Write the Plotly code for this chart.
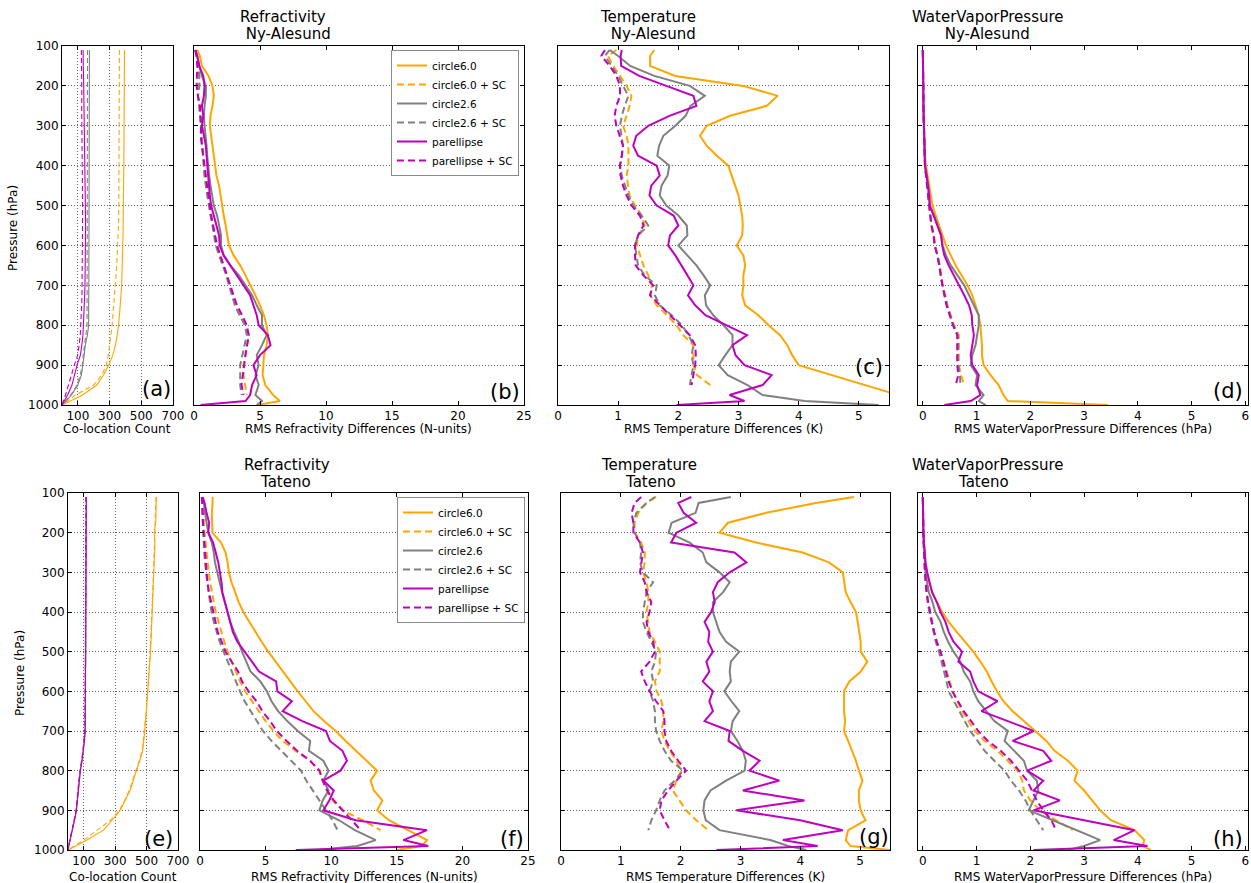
import plotly.graph_objects as go

W, H = 1251, 883
FONT = "DejaVu Sans, Verdana, sans-serif"

# ---------------- data ----------------
P = [110, 125, 150, 175, 200, 225, 250, 275, 300, 325, 350, 375, 400, 425, 450, 475, 500, 525, 550, 575,
     600, 625, 650, 675, 700, 725, 750, 775, 800, 825, 850, 875, 900, 925, 950, 975, 990, 1000]

SERIES = ["circle6.0", "circle6.0 + SC", "circle2.6", "circle2.6 + SC", "parellipse", "parellipse + SC"]
COLORS = ["#FFA500", "#FFA500", "#808080", "#808080", "#BF00BF", "#BF00BF"]
DASHED = [False, True, False, True, False, True]

# (a) Ny-Alesund co-location counts
cnt_ny_c6 = [394,394,394,393,393,392,392,392,391,391,390,390,390,389,389,388,388,387,386,385,
             383,382,380,378,376,372,368,363,357,348,337,320,295,262,220,130,55,0]
cnt_ny_c6sc = [362,362,362,362,361,361,361,361,361,361,360,360,360,360,360,360,360,358,356,354,
               352,349,345,341,337,332,327,321,316,309,301,292,280,250,200,85,35,0]
cnt_ny_c26 = [173,173,172,172,172,171,171,171,171,170,170,170,170,170,170,170,170,170,170,170,
              170,170,169,169,169,169,168,168,168,160,147,140,133,122,100,60,25,0]
cnt_ny_c26sc = [161,161,161,161,160,160,160,160,160,160,160,160,160,160,160,160,160,160,160,160,
                160,160,160,159,159,159,158,158,158,150,140,134,128,115,95,55,22,0]
cnt_ny_pe = [133,135,134,136,137,136,138,139,140,139,141,142,143,144,146,148,150,150,149,148,
             148,147,147,146,145,143,141,139,137,132,125,116,95,80,63,35,12,0]
cnt_ny_pesc = [122,123,122,124,124,125,124,125,125,126,126,127,127,128,129,129,130,130,130,129,
               129,129,128,128,128,126,124,122,120,115,108,99,78,60,42,22,8,0]

# (b) Ny-Alesund refractivity
ref_ny_c6 = [0.25,0.45,0.6,1.1,1.4,1.5,1.4,1.25,1.2,1.3,1.4,1.45,1.55,1.7,1.9,2.0,2.15,2.25,2.4,2.5,
             2.65,3.0,3.5,3.9,4.3,4.65,5.0,5.3,5.5,5.6,5.5,5.3,5.25,5.2,5.4,6.0,6.5,4.8]
ref_ny_c6sc = [0.1,0.2,0.3,0.4,0.4,0.3,0.4,0.45,0.5,0.55,0.6,0.7,0.75,0.8,0.9,1.0,1.15,1.3,1.45,1.55,
               1.7,1.95,2.25,2.5,2.7,2.9,3.15,3.5,3.9,4.15,4.0,3.9,3.75,3.75,3.9,4.0,None,None]
ref_ny_c26 = [0.1,0.25,0.4,0.6,0.9,0.9,0.8,0.75,0.8,0.9,0.95,1.0,1.05,1.15,1.25,1.4,1.5,1.75,1.9,2.05,
              2.05,2.25,2.75,3.4,3.9,4.4,4.75,5.15,5.15,5.5,5.15,4.75,4.9,4.65,4.9,4.65,5.15,4.75]
ref_ny_c26sc = [0.1,0.2,0.3,0.4,0.4,0.3,0.4,0.45,0.5,0.55,0.6,0.65,0.7,0.8,0.9,1.0,1.1,1.25,1.4,1.5,
                1.65,1.9,2.2,2.45,2.65,2.85,3.1,3.45,3.85,4.0,3.85,3.7,3.5,3.5,3.5,3.6,None,None]
ref_ny_pe = [0.1,0.25,0.4,0.7,0.8,0.75,0.6,0.7,0.6,0.75,0.9,0.95,1.0,1.05,1.15,1.2,1.3,1.5,1.7,1.9,
             1.95,2.25,2.75,3.25,3.75,4.25,4.5,4.75,4.9,5.6,5.8,5.0,4.5,4.75,4.4,4.25,3.9,0.5]
ref_ny_pesc = [0.1,0.2,0.25,0.25,0.2,0.3,0.45,0.5,0.55,0.5,0.6,0.7,0.8,0.9,0.95,1.05,1.2,1.3,1.45,1.6,
               1.75,2.0,2.25,2.5,2.75,3.0,3.25,3.65,4.0,4.15,4.0,3.9,3.8,3.7,3.6,3.75,None,None]

# (c) Ny-Alesund temperature
tmp_ny_c6 = [1.6,1.53,1.53,1.95,3.08,3.65,3.47,2.86,2.47,2.36,2.47,2.64,2.83,2.89,2.94,3.0,3.03,3.06,3.07,3.06,
             2.97,3.08,3.11,3.08,3.08,3.06,3.11,3.33,3.5,3.69,3.81,3.89,4.0,4.55,5.1,5.7,6.0,6.2]
tmp_ny_c6sc = [0.97,0.83,0.92,1.03,1.14,1.22,1.19,1.14,1.08,1.14,1.17,1.17,1.17,1.14,1.17,1.19,1.28,1.39,1.44,1.33,
               1.31,1.36,1.42,1.5,1.56,1.53,1.64,1.81,1.97,2.08,2.25,2.25,2.25,2.31,2.53,None,None,None]
tmp_ny_c26 = [0.86,1.0,1.2,1.6,2.19,2.44,2.2,2.12,1.95,1.75,1.68,1.65,1.85,1.82,1.72,1.69,1.8,2.0,2.14,2.15,
              2.0,2.15,2.3,2.42,2.53,2.44,2.46,2.58,2.75,2.9,2.9,2.78,2.67,2.82,3.15,3.4,4.1,5.33]
tmp_ny_c26sc = [0.86,0.78,0.89,1.0,1.08,1.17,1.11,1.06,1.03,1.06,1.08,1.06,1.03,1.06,1.11,1.17,1.25,1.39,1.5,1.33,
                1.28,1.31,1.33,1.44,1.64,1.61,1.69,1.89,2.06,2.17,2.25,2.22,2.25,2.22,2.19,None,None,None]
tmp_ny_pe = [1.06,1.04,1.05,1.35,1.8,2.25,2.3,1.85,1.5,1.3,1.25,1.33,1.64,1.69,1.55,1.52,1.64,1.92,2.0,1.86,
             1.83,1.95,2.05,2.15,2.25,2.16,2.28,2.45,2.8,3.14,2.9,2.95,3.1,3.55,3.4,2.85,3.1,1.97]
tmp_ny_pesc = [0.78,0.72,0.86,0.97,1.03,1.03,0.97,0.94,0.97,1.03,1.08,1.06,1.03,1.04,1.08,1.14,1.22,1.36,1.42,1.33,
               1.28,1.28,1.29,1.42,1.58,1.53,1.69,1.86,2.03,2.19,2.28,2.29,2.28,2.25,2.22,None,None,None]

# (d) Ny-Alesund water vapour pressure
wv_ny_c6 = [0.0,0.0,0.0,0.005,0.01,0.01,0.012,0.015,0.02,0.025,0.03,0.04,0.06,0.09,0.12,0.15,0.18,0.24,0.3,0.37,
            0.43,0.52,0.61,0.72,0.83,0.92,0.98,1.04,1.07,1.09,1.1,1.1,1.13,1.26,1.41,1.5,1.58,3.44]
wv_ny_c6sc = [0.0,0.0,0.0,0.005,0.01,0.01,0.012,0.015,0.02,0.025,0.03,0.035,0.04,0.06,0.09,0.1,0.12,0.13,0.17,0.21,
              0.23,0.28,0.32,0.34,0.37,0.42,0.46,0.52,0.58,0.67,0.67,0.66,0.67,0.71,0.77,None,None,None]
wv_ny_c26 = [0.0,0.0,0.0,0.005,0.01,0.01,0.012,0.015,0.02,0.025,0.03,0.035,0.04,0.07,0.1,0.11,0.13,0.21,0.28,0.34,
             0.37,0.43,0.52,0.64,0.77,0.86,0.95,1.04,1.04,1.01,0.98,0.92,0.89,1.01,0.98,1.13,1.04,1.17]
wv_ny_c26sc = [0.0,0.0,0.0,0.005,0.01,0.01,0.012,0.015,0.02,0.025,0.03,0.035,0.04,0.06,0.08,0.1,0.11,0.13,0.16,0.2,
               0.22,0.27,0.31,0.33,0.36,0.41,0.45,0.51,0.57,0.65,0.66,0.65,0.66,0.69,0.7,None,None,None]
wv_ny_pe = [0.0,0.0,0.0,0.005,0.01,0.01,0.012,0.015,0.02,0.025,0.03,0.035,0.04,0.07,0.1,0.12,0.13,0.2,0.26,0.34,
            0.36,0.4,0.48,0.58,0.67,0.77,0.86,0.91,0.92,0.95,0.92,0.89,0.92,1.04,1.01,1.07,0.89,0.4]
wv_ny_pesc = [0.0,0.0,0.0,0.005,0.01,0.01,0.012,0.015,0.02,0.025,0.03,0.035,0.04,0.06,0.08,0.1,0.11,0.13,0.16,0.2,
              0.22,0.27,0.3,0.33,0.36,0.4,0.44,0.5,0.56,0.64,0.64,0.63,0.64,0.66,0.61,None,None,None]

# (e) Tateno co-location counts
cnt_ta_c6 = [562,561,560,558,548,553,551,549,546,544,541,539,537,534,531,528,525,521,518,514,
             510,505,500,494,489,482,475,456,437,416,395,363,332,280,226,120,45,0]
cnt_ta_c6sc = [560,559,558,556,550,551,549,547,544,542,539,537,535,532,529,526,523,519,516,512,
               508,503,498,492,487,480,472,453,433,412,390,360,328,270,185,100,40,0]
cnt_ta_c26 = [117,117,116,116,116,116,115,115,115,115,114,114,114,114,113,113,113,113,112,112,
              112,111,111,110,110,105,98,90,79,72,66,60,54,42,26,12,5,0]
cnt_ta_c26sc = [115,116,115,115,114,115,114,114,113,114,113,113,112,113,112,112,112,111,111,111,
                110,112,110,109,108,103,96,88,77,70,64,58,52,40,25,11,4,0]
cnt_ta_pe = [116,116,115,116,115,115,114,115,114,114,113,114,113,113,112,112,112,112,111,111,
             111,114,110,109,109,104,97,89,78,71,65,59,53,41,25,12,5,0]
cnt_ta_pesc = [114,115,114,114,113,114,113,113,112,113,112,112,111,112,111,111,111,110,110,110,
               109,112,109,108,107,102,95,86,76,69,63,57,51,39,24,11,4,0]

# (f) Tateno refractivity
ref_ta_c6 = [0.96,0.96,0.9,0.9,0.95,1.6,1.95,2.1,2.2,2.4,2.65,2.95,3.3,3.75,4.2,4.7,5.2,5.75,6.3,6.9,
             7.45,8.05,8.65,9.45,10.35,11.1,11.9,12.75,13.5,13.0,13.25,13.9,13.5,14.4,15.9,17.3,16.9,15.0]
ref_ta_c6sc = [0.25,0.25,0.27,0.3,0.35,0.42,0.5,0.58,0.66,0.78,0.9,1.05,1.2,1.4,1.6,1.85,2.1,2.4,2.7,3.05,
               3.45,3.95,4.45,5.0,5.6,6.3,7.3,8.35,9.15,9.34,9.65,10.1,10.86,12.4,13.76,None,None,None]
ref_ta_c26 = [0.15,0.3,0.38,0.5,0.63,0.9,1.05,1.14,1.3,1.5,1.68,1.9,2.1,2.3,2.6,2.95,3.2,3.54,3.85,4.6,
              5.1,5.45,5.95,6.65,7.45,8.4,8.3,9.4,9.8,9.4,9.8,9.35,9.1,10.6,11.8,13.4,12.0,9.0]
ref_ta_c26sc = [0.13,0.15,0.17,0.19,0.22,0.28,0.32,0.38,0.45,0.55,0.65,0.75,0.88,1.05,1.25,1.5,1.8,2.1,2.4,2.7,
                3.05,3.4,3.85,4.3,4.8,5.45,6.2,7.0,7.7,8.1,8.6,9.1,9.6,10.1,10.48,None,None,None]
ref_ta_pe = [0.2,0.35,0.5,0.7,0.63,1.0,1.2,1.39,1.52,1.64,1.7,1.9,2.1,2.3,2.5,2.85,3.4,3.9,4.5,5.8,
             5.9,7.0,6.3,7.8,9.6,9.9,10.86,11.2,10.7,9.4,10.2,9.85,9.4,11.87,17.3,15.5,17.4,7.3]
ref_ta_pesc = [0.15,0.18,0.2,0.22,0.27,0.32,0.38,0.45,0.5,0.58,0.68,0.85,1.0,1.15,1.35,1.65,1.95,2.4,2.9,3.2,
               3.7,4.3,4.75,5.35,5.85,6.6,7.4,8.4,9.1,9.35,9.7,10.2,10.9,11.6,12.25,None,None,None]

# (g) Tateno temperature
tmp_ta_c6 = [4.9,4.26,3.43,2.79,2.65,3.26,4.04,4.48,4.71,4.73,4.76,4.84,4.93,4.96,4.98,5.01,5.01,5.12,5.01,4.82,
             4.73,4.73,4.73,4.75,4.73,4.8,4.87,4.93,4.98,5.04,4.98,4.98,5.01,5.09,4.8,4.76,4.84,5.5]
tmp_ta_c6sc = [1.59,1.43,1.29,1.23,1.23,1.34,1.4,1.4,1.37,1.43,1.46,1.46,1.43,1.46,1.48,1.57,1.65,1.65,1.65,1.57,
               1.6,1.68,1.71,1.71,1.68,1.73,1.82,1.93,2.01,1.93,1.87,1.98,2.09,2.26,2.46,None,None,None]
tmp_ta_c26 = [2.84,2.3,2.25,1.85,1.8,2.15,2.37,2.43,2.65,2.82,2.71,2.54,2.54,2.59,2.65,2.76,2.98,2.84,2.82,2.84,
              2.73,2.85,2.98,2.87,2.84,2.95,3.04,3.09,3.07,2.76,2.5,2.4,2.38,2.42,2.65,3.5,3.8,4.1]
tmp_ta_c26sc = [1.57,1.43,1.26,1.21,1.23,1.32,1.34,1.32,1.37,1.54,1.43,1.4,1.37,1.37,1.43,1.51,1.59,1.57,1.51,1.54,
                1.48,1.54,1.57,1.57,1.59,1.65,1.73,1.84,2.04,1.9,1.73,1.65,1.59,1.51,1.46,None,None,None]
tmp_ta_pe = [2.18,1.96,2.05,2.26,1.93,1.84,2.9,3.1,2.82,2.62,2.54,2.57,2.51,2.4,2.48,2.46,2.54,2.43,2.48,2.37,
             2.54,2.48,2.54,2.4,2.82,2.8,3.04,3.32,3.15,3.65,3.04,4.07,2.93,4.0,4.71,3.71,4.29,2.6]
tmp_ta_pesc = [1.34,1.23,1.18,1.21,1.21,1.32,1.37,1.34,1.32,1.4,1.43,1.51,1.48,1.43,1.46,1.54,1.57,1.48,1.34,1.4,
               1.48,1.59,1.71,1.73,1.73,1.76,1.84,1.96,2.09,1.93,1.79,1.68,1.65,1.73,1.82,None,None,None]

# (h) Tateno water vapour pressure
wv_ta_c6 = [0.0,0.0,0.0,0.005,0.01,0.02,0.03,0.05,0.08,0.12,0.18,0.26,0.36,0.48,0.63,0.78,0.94,1.07,1.19,1.28,
            1.38,1.5,1.67,1.88,2.1,2.3,2.45,2.7,2.88,2.82,3.0,3.15,3.3,3.5,3.94,4.12,4.09,4.24]
wv_ta_c6sc = [0.0,0.0,0.0,0.005,0.01,0.015,0.02,0.03,0.04,0.055,0.07,0.1,0.13,0.17,0.21,0.26,0.33,0.39,0.45,0.5,
              0.55,0.64,0.73,0.85,0.97,1.15,1.39,1.58,1.76,1.85,1.88,2.0,2.18,2.48,2.79,None,None,None]
wv_ta_c26 = [0.0,0.0,0.0,0.005,0.01,0.02,0.03,0.04,0.05,0.08,0.11,0.18,0.23,0.33,0.39,0.47,0.57,0.7,0.76,0.88,
             0.94,1.03,1.18,1.33,1.58,1.52,1.7,1.88,1.94,2.12,2.15,2.06,1.97,2.42,2.85,3.3,3.0,2.7]
wv_ta_c26sc = [0.0,0.0,0.0,0.005,0.01,0.015,0.02,0.03,0.04,0.05,0.065,0.09,0.12,0.16,0.2,0.24,0.3,0.35,0.4,0.44,
               0.48,0.58,0.67,0.78,0.88,1.02,1.15,1.33,1.52,1.64,1.79,1.91,2.0,2.12,2.24,None,None,None]
wv_ta_pe = [0.0,0.0,0.0,0.005,0.01,0.02,0.03,0.05,0.08,0.12,0.17,0.26,0.33,0.42,0.48,0.57,0.73,0.66,0.88,0.94,
            1.03,1.39,1.09,1.58,2.06,1.67,2.24,2.39,1.94,2.24,2.06,2.55,2.06,3.0,3.94,3.55,4.18,2.06]
wv_ta_pesc = [0.0,0.0,0.0,0.005,0.01,0.015,0.02,0.03,0.04,0.055,0.07,0.1,0.13,0.17,0.21,0.26,0.33,0.38,0.42,0.48,
              0.55,0.65,0.76,0.9,1.03,1.21,1.45,1.64,1.79,1.94,2.03,2.12,2.24,2.39,2.48,None,None,None]

X_TITLES = ["Co-location Count", "RMS Refractivity Differences (N-units)",
            "RMS Temperature Differences (K)", "RMS WaterVaporPressure Differences (hPa)"]

# ---------------- panel definitions ----------------
panels = [
    dict(series=[cnt_ny_c6, cnt_ny_c6sc, cnt_ny_c26, cnt_ny_c26sc, cnt_ny_pe, cnt_ny_pesc],
         xr=[0, 700], tv=[100, 300, 500, 700], xgrid=True, box=(62, 173, 46, 405), ylab=True, lw=1.1,
         label="(a)", lab=(173, 389), xt=X_TITLES[0], xtp=(117, 429)),
    dict(series=[ref_ny_c6, ref_ny_c6sc, ref_ny_c26, ref_ny_c26sc, ref_ny_pe, ref_ny_pesc],
         xr=[0, 25], tv=[0, 5, 10, 15, 20, 25], xgrid=False, box=(194, 524, 46, 405), ylab=False, lw=2,
         label="(b)", lab=(522, 392), xt=X_TITLES[1], xtp=(359, 429)),
    dict(series=[tmp_ny_c6, tmp_ny_c6sc, tmp_ny_c26, tmp_ny_c26sc, tmp_ny_pe, tmp_ny_pesc],
         xr=[0, 5.5], tv=[0, 1, 2, 3, 4, 5], xgrid=False, box=(558, 889, 46, 405), ylab=False, lw=2,
         label="(c)", lab=(885, 367), xt=X_TITLES[2], xtp=(723, 429)),
    dict(series=[wv_ny_c6, wv_ny_c6sc, wv_ny_c26, wv_ny_c26sc, wv_ny_pe, wv_ny_pesc],
         xr=[-0.09, 6.05], tv=[0, 1, 2, 3, 4, 5, 6], xgrid=False, box=(918, 1248, 46, 405), ylab=False, lw=2,
         label="(d)", lab=(1245, 391), xt=X_TITLES[3], xtp=(1083, 429)),
    dict(series=[cnt_ta_c6, cnt_ta_c6sc, cnt_ta_c26, cnt_ta_c26sc, cnt_ta_pe, cnt_ta_pesc],
         xr=[0, 700], tv=[100, 300, 500, 700], xgrid=True, box=(68, 178, 493, 850), ylab=True, lw=1.1,
         label="(e)", lab=(175, 839), xt=X_TITLES[0], xtp=(123, 877)),
    dict(series=[ref_ta_c6, ref_ta_c6sc, ref_ta_c26, ref_ta_c26sc, ref_ta_pe, ref_ta_pesc],
         xr=[0, 25], tv=[0, 5, 10, 15, 20, 25], xgrid=False, box=(200, 528, 493, 850), ylab=False, lw=2,
         label="(f)", lab=(526, 839), xt=X_TITLES[1], xtp=(364, 877)),
    dict(series=[tmp_ta_c6, tmp_ta_c6sc, tmp_ta_c26, tmp_ta_c26sc, tmp_ta_pe, tmp_ta_pesc],
         xr=[0, 5.5], tv=[0, 1, 2, 3, 4, 5], xgrid=False, box=(561, 890, 493, 850), ylab=False, lw=2,
         label="(g)", lab=(891, 837), xt=X_TITLES[2], xtp=(725, 877)),
    dict(series=[wv_ta_c6, wv_ta_c6sc, wv_ta_c26, wv_ta_c26sc, wv_ta_pe, wv_ta_pesc],
         xr=[-0.09, 6.05], tv=[0, 1, 2, 3, 4, 5, 6], xgrid=False, box=(918, 1248, 493, 850), ylab=False, lw=2,
         label="(h)", lab=(1245, 839), xt=X_TITLES[3], xtp=(1083, 877)),
]

TITLES = [
    ("Refractivity", 283, 17), (" Ny-Alesund", 286, 34),
    ("Temperature", 648, 17), (" Ny-Alesund", 651, 34),
    ("WaterVaporPressure", 988, 17), (" Ny-Alesund", 985, 34),
    ("Refractivity", 287, 465), ("Tateno", 285, 482),
    ("Temperature", 649, 465), ("Tateno", 650, 482),
    ("WaterVaporPressure", 988, 465), ("Tateno", 983, 482),
]

fig = go.Figure()
layout = dict(
    width=W, height=H, margin=dict(l=0, r=0, t=0, b=0, autoexpand=False),
    paper_bgcolor="white", plot_bgcolor="white",
    font=dict(family=FONT, size=12, color="black"),
    showlegend=True,
)

annotations = []
for i, pn in enumerate(panels, start=1):
    xa = "xaxis" if i == 1 else f"xaxis{i}"
    ya = "yaxis" if i == 1 else f"yaxis{i}"
    xr_ = "x" if i == 1 else f"x{i}"
    yr_ = "y" if i == 1 else f"y{i}"
    x0, x1, yt, yb = pn["box"]
    common = dict(showline=True, linecolor="black", linewidth=1, mirror="ticks",
                  ticks="inside", ticklen=4, tickwidth=1, tickcolor="black",
                  zeroline=False, gridcolor="#666666", gridwidth=1, griddash="1px,2px",
                  automargin=False,
                  tickfont=dict(family=FONT, size=12, color="black"))
    layout[xa] = dict(domain=[x0 / W, x1 / W], anchor=yr_, range=pn["xr"], tickvals=pn["tv"],
                      showgrid=pn["xgrid"], **common)
    layout[ya] = dict(domain=[1 - yb / H, 1 - yt / H], anchor=xr_, range=[1000, 100],
                      tickvals=list(range(100, 1001, 100)), showgrid=True,
                      showticklabels=pn["ylab"], **common)
    lw = pn["lw"]
    for k, vals in enumerate(pn["series"]):
        dash = ("5px,3px" if lw < 1.5 else "7px,4px") if DASHED[k] else "solid"
        fig.add_trace(go.Scatter(
            x=vals, y=P, mode="lines", name=SERIES[k],
            line=dict(color=COLORS[k], width=lw, dash=dash),
            xaxis=xr_, yaxis=yr_, hoverinfo="skip",
            showlegend=(i in (2, 6)),
            legend=("legend" if i == 2 else "legend2"),
        ))
    lx, ly = pn["lab"]
    annotations.append(dict(text=pn["label"], x=lx / W, y=1 - ly / H, xref="paper", yref="paper",
                            xanchor="right", yanchor="middle", showarrow=False,
                            font=dict(family=FONT, size=21, color="black")))
    tx, ty = pn["xtp"]
    annotations.append(dict(text=pn["xt"], x=tx / W, y=1 - ty / H, xref="paper", yref="paper",
                            xanchor="center", yanchor="middle", showarrow=False,
                            font=dict(family=FONT, size=12, color="black")))

for txt, cx, cy in TITLES:
    annotations.append(dict(text=txt, x=cx / W, y=1 - cy / H, xref="paper", yref="paper",
                            xanchor="center", yanchor="middle", showarrow=False,
                            font=dict(family=FONT, size=15, color="black")))

for cx, cy in [(13, 228), (20, 673)]:
    annotations.append(dict(text="Pressure (hPa)", x=cx / W, y=1 - cy / H, xref="paper", yref="paper",
                            xanchor="center", yanchor="middle", textangle=-90, showarrow=False,
                            font=dict(family=FONT, size=12, color="black")))

leg_common = dict(bgcolor="white", bordercolor="#8a8a8a", borderwidth=1,
                  font=dict(family=FONT, size=10.5, color="black"), tracegroupgap=0,
                  xanchor="right", yanchor="top")
layout["legend"] = dict(x=519 / W, y=1 - 50 / H, **leg_common)
layout["legend2"] = dict(x=525 / W, y=1 - 497 / H, **leg_common)
layout["annotations"] = annotations

fig.update_layout(**layout)
fig.write_html("out.html",
               config={"displayModeBar": False, "staticPlot": True},
               post_script="document.body.style.margin='0';document.body.style.overflow='hidden';")
